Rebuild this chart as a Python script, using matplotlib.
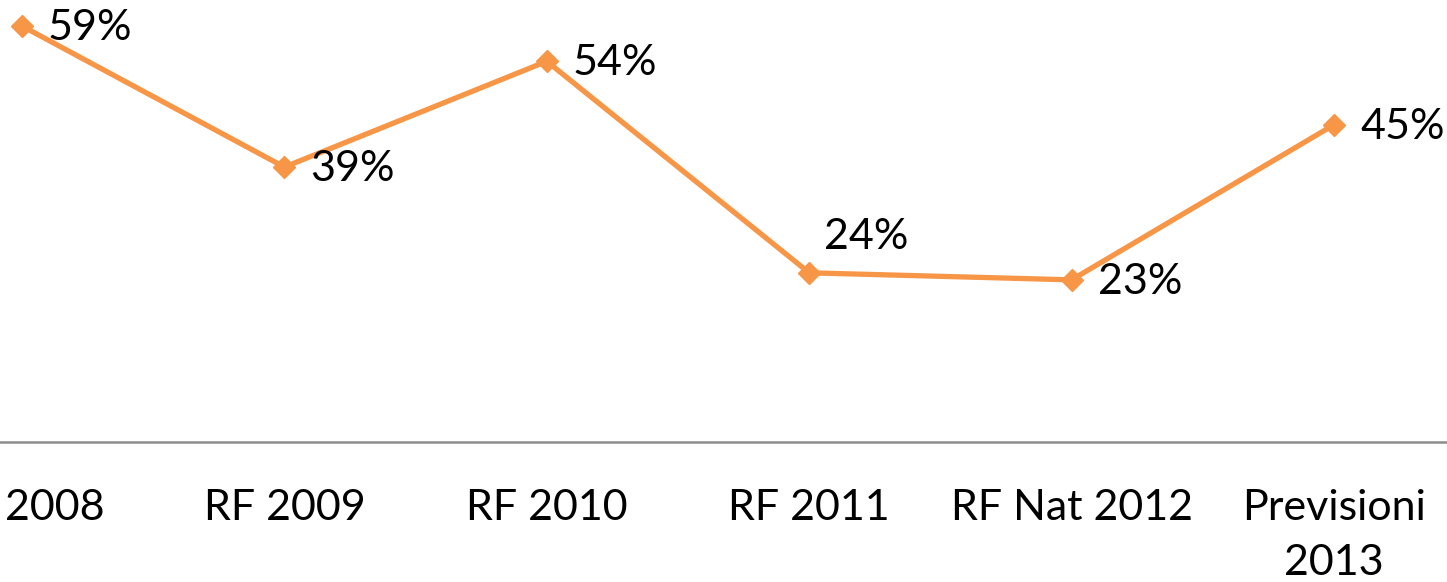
import matplotlib
matplotlib.use("Agg")
import matplotlib.pyplot as plt
from matplotlib.transforms import ScaledTranslation

categories = ["2008", "RF 2009", "RF 2010", "RF 2011", "RF Nat 2012", "Previsioni\n2013"]
values = [59, 39, 54, 24, 23, 45]
labels = ["59%", "39%", "54%", "24%", "23%", "45%"]

plt.rcParams['font.family'] = ['Lato', 'DejaVu Sans']

W, H = 1447, 582
fig = plt.figure(figsize=(W / 100, H / 100), dpi=100)
ax = fig.add_axes([0, (H - 442) / H, 1, 442 / H])

x = list(range(len(values)))
color = "#F79646"
ax.plot(x, values, color=color, lw=3.8, marker="D", ms=11, mec=color, mfc=color,
        solid_joinstyle="miter", clip_on=False, zorder=3)

ax.set_xlim(-22 / 262.4, 5 + 113 / 262.4)
ax.set_ylim(0, 442 / 7.05)

fs = 31
for xi, v, lab in zip(x, values, labels):
    if lab == "24%":
        ax.annotate(lab, (xi, v), xytext=(15, 36), textcoords="offset pixels",
                    ha="left", va="center", fontsize=fs, color="black")
    else:
        ax.annotate(lab, (xi, v), xytext=(26, -2), textcoords="offset pixels",
                    ha="left", va="center", fontsize=fs, color="black")

for s in ["top", "right", "left"]:
    ax.spines[s].set_visible(False)
ax.spines["bottom"].set_color("#8C8C8C")
ax.spines["bottom"].set_linewidth(1.8)
ax.set_yticks([])
ax.set_xticks(x)
ax.set_xticklabels(categories, fontsize=fs, linespacing=1.55, va="top")
ax.tick_params(axis="x", length=0, pad=34)
first = ax.get_xticklabels()[0]
first.set_horizontalalignment("left")
first.set_transform(first.get_transform() + ScaledTranslation(-17 / 100, 0, fig.dpi_scale_trans))

fig.savefig("out.png", dpi=100)
